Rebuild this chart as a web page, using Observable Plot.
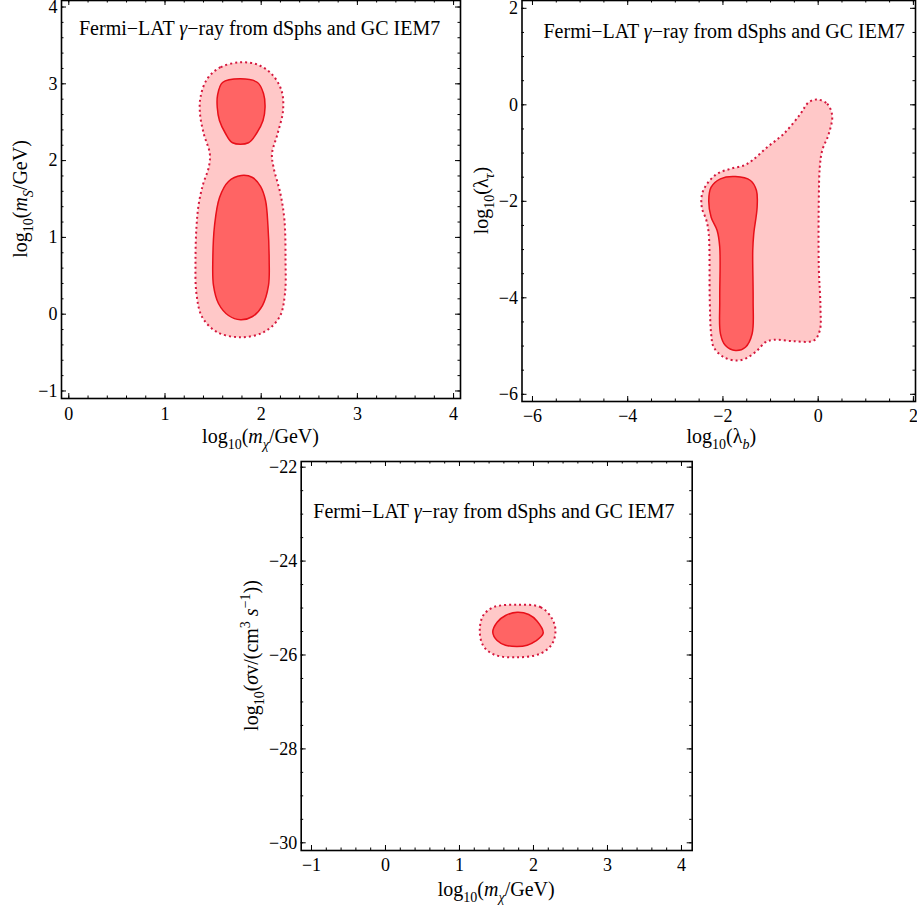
<!DOCTYPE html>
<html><head><meta charset="utf-8">
<script src="https://cdn.jsdelivr.net/npm/d3@7"></script>
<script src="https://cdn.jsdelivr.net/npm/@observablehq/plot@0.6"></script>
<style>
html,body{margin:0;padding:0;background:#fff;}
#fig{position:relative;width:917px;height:909px;overflow:hidden;background:#fff;}
#fig svg{position:absolute;overflow:visible;}
</style></head><body><div id="fig"></div>
<script>
const FONT = '"Liberation Serif","Times New Roman",serif';

// ---------- Panel 1: log10(m_S/GeV) vs log10(m_chi/GeV) ----------
const p1XTicks = [0, 1, 2, 3, 4];
const p1YTicks = [-1, 0, 1, 2, 3, 4];
const p1Outer = [
  [1.785, 3.28], [1.577, 3.216], [1.439, 3.065], [1.369, 2.826], [1.364, 2.61],
  [1.403, 2.349], [1.466, 2.089], [1.455, 1.914], [1.397, 1.698], [1.351, 1.438],
  [1.327, 1.133], [1.317, 0.699], [1.327, 0.266], [1.387, -0.039], [1.543, -0.234],
  [1.785, -0.3], [2.027, -0.234], [2.19, -0.039], [2.247, 0.266], [2.253, 0.699],
  [2.242, 1.22], [2.2, 1.568], [2.128, 1.914], [2.112, 2.089], [2.17, 2.349],
  [2.227, 2.652], [2.211, 2.913], [2.107, 3.13], [1.962, 3.25]
];
const p1InnerTop = [
  [1.785, 3.065], [1.598, 3.017], [1.546, 2.848], [1.543, 2.695], [1.566, 2.522],
  [1.629, 2.353], [1.702, 2.232], [1.868, 2.232], [1.951, 2.353], [2.019, 2.522],
  [2.04, 2.695], [2.024, 2.874], [1.962, 3.017]
];
const p1InnerLow = [
  [1.792, 1.806], [1.66, 1.728], [1.567, 1.52], [1.515, 1.155], [1.497, 0.699],
  [1.504, 0.374], [1.556, 0.139], [1.66, -0.017], [1.785, -0.073], [1.91, -0.03],
  [2.013, 0.113], [2.076, 0.374], [2.083, 0.699], [2.07, 1.155], [2.045, 1.48],
  [1.993, 1.663], [1.91, 1.78]
];

// ---------- Panel 2: log10(lambda_tau) vs log10(lambda_b) ----------
const p2XTicks = [-6, -4, -2, 0, 2];
const p2YTicks = [-6, -4, -2, 0, 2];
const p2Outer = [
  [-0.021, 0.11], [0.189, 0.021], [0.294, -0.222], [0.223, -0.601], [0.084, -0.947],
  [0.034, -1.293], [0.013, -1.983], [0.013, -3.366], [0.048, -4.195], [0.034, -4.678],
  [-0.092, -4.885], [-0.513, -4.9], [-0.933, -4.87], [-1.107, -4.92], [-1.282, -5.092],
  [-1.492, -5.244], [-1.702, -5.3], [-1.983, -5.231], [-2.193, -5.024], [-2.248, -4.746],
  [-2.277, -4.056], [-2.298, -2.674], [-2.347, -2.398], [-2.445, -2.122], [-2.437, -1.845],
  [-2.332, -1.637], [-2.122, -1.43], [-1.842, -1.326], [-1.563, -1.258], [-1.387, -1.154],
  [-1.071, -0.879], [-0.723, -0.601], [-0.372, -0.187], [-0.197, 0.054]
];
const p2Inner = [
  [-1.737, -1.486], [-1.422, -1.569], [-1.296, -1.776], [-1.282, -2.122], [-1.353, -2.674],
  [-1.374, -3.02], [-1.366, -4.056], [-1.387, -4.746], [-1.527, -5.024], [-1.737, -5.092],
  [-1.947, -4.989], [-2.052, -4.746], [-2.067, -4.056], [-2.067, -2.951], [-2.122, -2.605],
  [-2.248, -2.329], [-2.298, -1.983], [-2.248, -1.708], [-2.053, -1.534]
];

// ---------- Panel 3: log10(sigma v) vs log10(m_chi/GeV) ----------
const p3XTicks = [-1, 0, 1, 2, 3, 4];
const p3YTicks = [-30, -28, -26, -24, -22];
const p3Outer = [
  [1.78, -24.93], [2.095, -24.98], [2.253, -25.23], [2.297, -25.48], [2.253, -25.76],
  [2.095, -25.97], [1.78, -26.05], [1.464, -25.99], [1.32, -25.8], [1.274, -25.48],
  [1.32, -25.16], [1.464, -24.98]
];
const p3Inner = [
  [1.45, -25.514], [1.509, -25.301], [1.622, -25.159], [1.78, -25.088], [1.936, -25.137],
  [2.05, -25.28], [2.131, -25.536], [2.027, -25.706], [1.915, -25.791], [1.78, -25.819],
  [1.622, -25.791], [1.509, -25.691]
];

const titleParts = [["Fermi\u2212LAT "], ["\u03b3", "i"], ["\u2212ray from dSphs and GC IEM7"]];

const OUTER_FILL = "#ffc8c8", OUTER_STROKE = "#d4173d";
const INNER_FILL = "#ff6464", INNER_STROKE = "#e8101a";

function richText(sel, x, y, parts, {size = 20, anchor = "middle", rotate = 0} = {}) {
  const t = sel.append("text")
    .attr("transform", `translate(${x},${y}) rotate(${rotate})`)
    .attr("text-anchor", anchor).attr("font-size", size)
    .attr("font-family", FONT).attr("fill", "black");
  let shift = 0;
  for (const [str, kind = ""] of parts) {
    const sub = kind.includes("sub"), sup = kind.includes("sup");
    const target = sub ? 0.28 * size : sup ? -0.38 * size : 0;
    const ts = t.append("tspan").text(str).attr("dy", target - shift);
    shift = target;
    if (sub || sup) ts.attr("font-size", size * 0.7);
    if (kind.startsWith("i")) ts.attr("font-style", "italic");
  }
  return t;
}

function minor(lo, hi, step) {
  const out = [];
  for (let v = lo; v <= hi + 1e-9; v += step) out.push(+v.toFixed(4));
  return out;
}

function panel(cfg) {
  const {left, top, width, height, margin, xDomain, yDomain, xTicks, yTicks,
         xMinor, yMinor, contours, xPad, yPad} = cfg;
  const fw = width - margin.left - margin.right;
  const fh = height - margin.top - margin.bottom;
  const tickMarks = (vals, len) => [
    Plot.ruleX(vals, {insetTop: fh - len, stroke: "black", strokeWidth: 1}),
    Plot.ruleX(vals, {insetBottom: fh - len, stroke: "black", strokeWidth: 1}),
  ];
  const tickMarksY = (vals, len) => [
    Plot.ruleY(vals, {insetRight: fw - len, stroke: "black", strokeWidth: 1}),
    Plot.ruleY(vals, {insetLeft: fw - len, stroke: "black", strokeWidth: 1}),
  ];
  const marks = [];
  for (const c of contours) {
    marks.push(Plot.line(c.data, {
      x: d => d[0], y: d => d[1], curve: "catmull-rom-closed",
      fill: c.fill, stroke: c.stroke, strokeWidth: c.width,
      strokeDasharray: c.dash, strokeLinecap: c.dash ? "butt" : "round"
    }));
  }
  marks.push(...tickMarks(xMinor, 2.5), ...tickMarks(xTicks, 5));
  marks.push(...tickMarksY(yMinor, 2.5), ...tickMarksY(yTicks, 5));
  marks.push(Plot.frame({stroke: "black", strokeWidth: 1.6}));
  marks.push(Plot.axisX(xTicks, {anchor: "bottom", tickSize: 0, tickPadding: xPad,
    tickFormat: d3.format("d"), fontSize: 18, fontFamily: FONT}));
  marks.push(Plot.axisY(yTicks, {anchor: "left", tickSize: 0, tickPadding: yPad,
    tickFormat: d3.format("d"), fontSize: 18, fontFamily: FONT}));
  const svg = Plot.plot({
    width, height,
    marginLeft: margin.left, marginRight: margin.right,
    marginTop: margin.top, marginBottom: margin.bottom,
    x: {domain: xDomain, label: null},
    y: {domain: yDomain, label: null},
    style: {background: "transparent", fontFamily: FONT, fontSize: "18px", color: "black", overflow: "visible"},
    marks
  });
  svg.style.left = left + "px";
  svg.style.top = top + "px";
  svg.style.maxWidth = "none";
  const s = d3.select(svg);
  const fx0 = margin.left, fy0 = margin.top;
  richText(s, fx0 + cfg.titleDx, fy0 + cfg.titleDy, titleParts, {size: 20, anchor: "start"});
  richText(s, fx0 + fw / 2 + (cfg.xLabelDx || 0), fy0 + fh + cfg.xLabelDy, cfg.xLabel, {size: 20});
  richText(s, fx0 - cfg.yLabelDx, fy0 + fh / 2, cfg.yLabel, {size: 20, rotate: -90});
  document.getElementById("fig").appendChild(svg);
}

const mchiLabel = [["log"], ["10", "sub"], ["("], ["m", "i"], ["\u03c7", "isub"], ["/GeV)"]];

panel({
  left: 0, top: -10, width: 475, height: 460,
  margin: {left: 61, right: 15, top: 10, bottom: 52},
  xDomain: [-0.076, 4.072], yDomain: [-1.098, 4.085],
  xTicks: p1XTicks, yTicks: p1YTicks,
  xMinor: minor(0, 4, 0.2), yMinor: minor(-1, 4, 0.2),
  xPad: 9, yPad: 4,
  contours: [
    {data: p1Outer, fill: OUTER_FILL, stroke: OUTER_STROKE, width: 2, dash: "2,3"},
    {data: p1InnerTop, fill: INNER_FILL, stroke: INNER_STROKE, width: 1.5},
    {data: p1InnerLow, fill: INNER_FILL, stroke: INNER_STROKE, width: 1.5}
  ],
  titleDx: 18, titleDy: 35,
  xLabel: mchiLabel, xLabelDy: 45,
  yLabel: [["log"], ["10", "sub"], ["("], ["m", "i"], ["S", "isub"], ["/GeV)"]], yLabelDx: 34
});

panel({
  left: 460, top: -10, width: 457, height: 460,
  margin: {left: 61.5, right: 2, top: 10, bottom: 49},
  xDomain: [-6.22, 2.044], yDomain: [-6.149, 2.162],
  xTicks: p2XTicks, yTicks: p2YTicks,
  xMinor: minor(-6, 2, 0.5), yMinor: minor(-6, 2, 0.5),
  xPad: 8, yPad: 4,
  contours: [
    {data: p2Outer, fill: OUTER_FILL, stroke: OUTER_STROKE, width: 2, dash: "2,3"},
    {data: p2Inner, fill: INNER_FILL, stroke: INNER_STROKE, width: 1.5}
  ],
  titleDx: 22, titleDy: 38,
  xLabel: [["log"], ["10", "sub"], ["(\u03bb"], ["b", "isub"], [")"]], xLabelDy: 42, xLabelDx: 3,
  yLabel: [["log"], ["10", "sub"], ["(\u03bb"], ["\u03c4", "isub"], [")"]], yLabelDx: 33.5
});

panel({
  left: 230, top: 440, width: 470, height: 469,
  margin: {left: 70.7, right: 8.3, top: 21, bottom: 59},
  xDomain: [-1.139, 4.145], yDomain: [-30.164, -21.879],
  xTicks: p3XTicks, yTicks: p3YTicks,
  xMinor: minor(-1, 4, 0.2), yMinor: minor(-30, -22, 0.5),
  xPad: 8, yPad: 4,
  contours: [
    {data: p3Outer, fill: OUTER_FILL, stroke: OUTER_STROKE, width: 2, dash: "2,3"},
    {data: p3Inner, fill: INNER_FILL, stroke: INNER_STROKE, width: 1.5}
  ],
  titleDx: 12.6, titleDy: 57.3,
  xLabel: mchiLabel, xLabelDy: 46,
  yLabel: [["log"], ["10", "sub"], ["("], ["\u03c3", "i"], ["v/(cm"], ["3", "sup"], [" "], ["s", "i"], ["\u22121", "sup"], ["))"]], yLabelDx: 42.7
});
</script></body></html>
